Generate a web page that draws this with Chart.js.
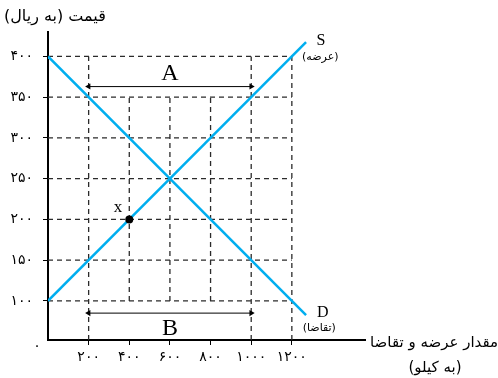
<!DOCTYPE html>
<html>
<head>
<meta charset="utf-8">
<script src="https://cdn.jsdelivr.net/npm/chart.js@4"></script>
<style>
  body { margin: 0; background: #fff; }
  #wrap { width: 498px; height: 378px; }
</style>
</head>
<body>
<div id="wrap"><canvas id="supplyDemand"></canvas></div>
<script>
// quantity ticks (kg) and price ticks (rial)
const qtyTicks = [200, 400, 600, 800, 1000, 1200]
const qtyLabels = ['۲۰۰', '۴۰۰', '۶۰۰', '۸۰۰', '۱۰۰۰', '۱۲۰۰']
const priceTicks = [100, 150, 200, 250, 300, 350, 400]
const priceLabels = ['۱۰۰', '۱۵۰', '۲۰۰', '۲۵۰', '۳۰۰', '۳۵۰', '۴۰۰']

// demand (D) and supply (S) lines
const demandQty = [0, 1270]
const demandPrice = [400, 82.5]
const supplyQty = [0, 1270]
const supplyPrice = [100, 417.5]

// marked point x on the supply line
const pointQty = [400]
const pointPrice = [200]

// dashed guides: horizontal ones run from the price axis to 1200
const guideLevels = [100, 150, 200, 250, 300, 350, 400]
const guideEnd = 1200
// vertical guides: [quantity, low price, high price]
const guideVerticals = [
    [200, 52, 400], [400, 100, 350], [600, 100, 350],
    [800, 100, 350], [1000, 52, 400], [1200, 52, 400],
]

// arrows A and B span 200 .. 1000
const arrowQty = [200, 1000]
const arrowAPrice = 363
const arrowBPrice = 85

const yMin = 52
const yMax = 430
const xMax = 1560

const fa = '"DejaVu Sans", sans-serif'
const serif = '"Liberation Serif", serif'
const cyan = '#00aeef'

// text labels in data coordinates
const notes = [
    { text: 'A', x: 600, y: 379, font: '24px ' + serif },
    { text: 'B', x: 600, y: 66, font: '24px ' + serif },
    { text: 'x', x: 344, y: 214, font: '17px ' + serif },
    { text: 'S', x: 1343, y: 419, font: '16px ' + serif },
    { text: '(عرضه)', x: 1340, y: 399, font: '11px ' + fa },
    { text: 'D', x: 1352, y: 85, font: '16px ' + serif },
    { text: '(تقاضا)', x: 1335, y: 66, font: '11px ' + fa },
]

function seg(points, style) {
    return Object.assign({
        data: points,
        showLine: true,
        pointRadius: 0,
        borderColor: '#2b2b2b',
        borderWidth: 1.3,
        borderDash: [5, 4],
        order: 3,
    }, style || {})
}

const datasets = []

datasets.push(seg(demandQty.map((q, i) => ({ x: q, y: demandPrice[i] })),
    { borderColor: cyan, borderWidth: 2.5, borderDash: [], order: 1 }))
datasets.push(seg(supplyQty.map((q, i) => ({ x: q, y: supplyPrice[i] })),
    { borderColor: cyan, borderWidth: 2.5, borderDash: [], order: 1 }))

guideLevels.forEach(p => {
    datasets.push(seg([{ x: 0, y: p }, { x: guideEnd, y: p }]))
})
guideVerticals.forEach(v => {
    datasets.push(seg([{ x: v[0], y: v[1] }, { x: v[0], y: v[2] }]))
})

;[arrowAPrice, arrowBPrice].forEach(p => {
    datasets.push(seg(arrowQty.map(q => ({ x: q, y: p })), {
        borderColor: '#000',
        borderWidth: 1,
        borderDash: [],
        pointStyle: 'triangle',
        pointRadius: 3.5,
        pointRotation: [270, 90],
        pointBackgroundColor: '#000',
        pointBorderWidth: 0,
        order: 2,
    }))
})

datasets.push({
    data: pointQty.map((q, i) => ({ x: q, y: pointPrice[i] })),
    pointRadius: 4,
    pointBackgroundColor: '#000',
    pointBorderWidth: 0,
    order: 0,
})

const textPlugin = {
    id: 'texts',
    afterDraw(chart) {
        const ctx = chart.ctx
        const xs = chart.scales.x
        const ys = chart.scales.y
        const area = chart.chartArea
        ctx.save()
        ctx.fillStyle = '#000'
        ctx.textAlign = 'center'
        ctx.textBaseline = 'middle'
        notes.forEach(n => {
            ctx.font = n.font
            ctx.fillText(n.text, xs.getPixelForValue(n.x), ys.getPixelForValue(n.y))
        })
        // origin label
        ctx.font = '14px ' + fa
        ctx.fillText('۰', area.left - 11, area.bottom + 6)
        // axis titles
        ctx.font = '16px ' + fa
        ctx.textAlign = 'left'
        ctx.fillText('قیمت (به ریال)', 4, 17)
        ctx.font = '15px ' + fa
        ctx.fillText('مقدار عرضه و تقاضا', area.right + 5, area.bottom + 3)
        ctx.textAlign = 'center'
        ctx.fillText('(به کیلو)', area.right + 70, area.bottom + 28)
        ctx.restore()
    },
}

new Chart(document.getElementById('supplyDemand'), {
    type: 'scatter',
    data: { datasets: datasets },
    options: {
        responsive: true,
        maintainAspectRatio: false,
        animation: false,
        layout: { padding: { top: 32, right: 133, left: 0, bottom: 0 } },
        plugins: { legend: { display: false }, tooltip: { enabled: false } },
        scales: {
            x: {
                type: 'linear',
                min: 0,
                max: xMax,
                afterFit: s => { s.height = 38 },
                afterBuildTicks: s => { s.ticks = qtyTicks.map(v => ({ value: v })) },
                border: { display: true, color: '#000', width: 2 },
                grid: { drawOnChartArea: false, drawTicks: true, tickLength: 5, color: '#000' },
                ticks: {
                    callback: (v, i) => qtyLabels[i],
                    font: { family: fa, size: 14 },
                    color: '#000',
                    padding: 4,
                    maxRotation: 0,
                },
            },
            y: {
                type: 'linear',
                min: yMin,
                max: yMax,
                afterFit: s => { s.width = 48 },
                afterBuildTicks: s => { s.ticks = priceTicks.map(v => ({ value: v })) },
                border: { display: true, color: '#000', width: 2 },
                grid: { drawOnChartArea: false, drawTicks: true, tickLength: 5, color: '#000' },
                ticks: {
                    callback: (v, i) => priceLabels[i],
                    font: { family: fa, size: 14 },
                    color: '#000',
                    padding: 10,
                },
            },
        },
    },
    plugins: [textPlugin],
})
</script>
</body>
</html>
